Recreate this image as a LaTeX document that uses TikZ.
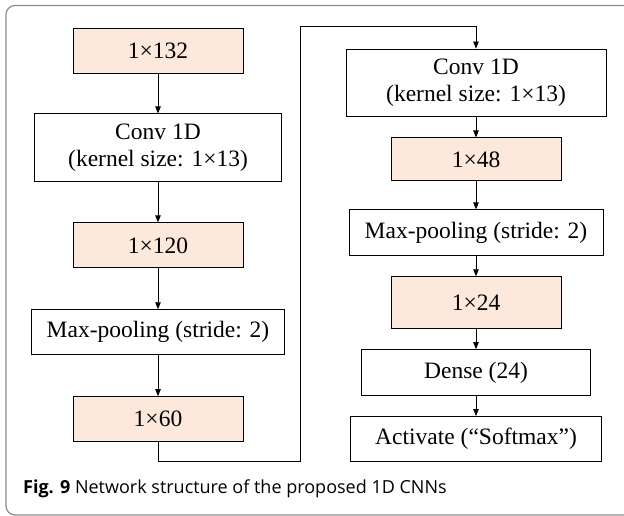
\documentclass[tikz,border=0pt]{standalone}
\usepackage{fontspec}
\setmainfont{Liberation Serif}
\newfontfamily\captionfont{Open Sans}
\usetikzlibrary{arrows.meta, positioning}
\definecolor{peach}{RGB}{252,233,219}
\definecolor{framegray}{RGB}{140,140,140}
\tikzstyle{stagebox} = [rectangle, minimum height=45pt, text centered, draw=black, line width=0.9pt, inner sep=2pt, font=\fontsize{23.5}{27}\selectfont]
\tikzstyle{dimbox} = [stagebox, minimum width=170pt, fill=peach]
\tikzstyle{arrow} = [line width=0.8pt, -{Triangle[length=7pt,width=5.5pt]}]

\begin{document}
\begin{tikzpicture}[x=1pt, y=1pt, node distance=40pt]
	\useasboundingbox (0,0) rectangle (624,-516);
	\draw [framegray, line width=1.2pt, rounded corners=9pt] (6,-5.5) rectangle (640,-515);

	% left column
	\node (in132) [dimbox] at (158,-50.5) {1×132};
	\node (conv1) [stagebox, below=of in132, minimum width=247pt, minimum height=68pt, align=center] {Conv 1D\\(kernel size: 1×13)};
	\node (out120) [dimbox, below=of conv1] {1×120};
	\node (pool1) [stagebox, below=41pt of out120, minimum width=253pt] {Max-pooling (stride: 2)};
	\node (out60) [dimbox, below=41pt of pool1] {1×60};

	% right column
	\node (conv2) [stagebox, minimum width=260pt, minimum height=67pt, align=center] at (476,-82.5) {Conv 1D\\(kernel size: 1×13)};
	\node (out48) [dimbox, below=21pt of conv2, minimum height=43pt] {1×48};
	\node (pool2) [stagebox, below=28pt of out48, minimum width=254pt, minimum height=46pt] {Max-pooling (stride: 2)};
	\node (out24) [dimbox, below=20pt of pool2, minimum height=52pt] {1×24};
	\node (dense) [stagebox, below=20pt of out24, minimum width=229pt, minimum height=46pt] {Dense (24)};
	\node (act) [stagebox, below=20pt of dense, minimum width=251pt] {Activate (``Softmax'')};

	\coordinate (turnlow) at (300,-461);
	\coordinate (turnhigh) at (300,-26);

	\draw [arrow] (in132) -- (conv1);
	\draw [arrow] (conv1) -- (out120);
	\draw [arrow] (out120) -- (pool1);
	\draw [arrow] (pool1) -- (out60);
	\draw [arrow] (out60.south) |- (turnlow) -- (turnhigh) -| (conv2.north);
	\draw [arrow] (conv2) -- (out48);
	\draw [arrow] (out48) -- (pool2);
	\draw [arrow] (pool2) -- (out24);
	\draw [arrow] (out24) -- (dense);
	\draw [arrow] (dense) -- (act);

	\node (caption) [anchor=base west, inner sep=0pt, font=\captionfont\fontsize{18}{22}\selectfont] at (23,-493) {\textbf{Fig. 9} Network structure of the proposed 1D CNNs};
\end{tikzpicture}
\end{document}
